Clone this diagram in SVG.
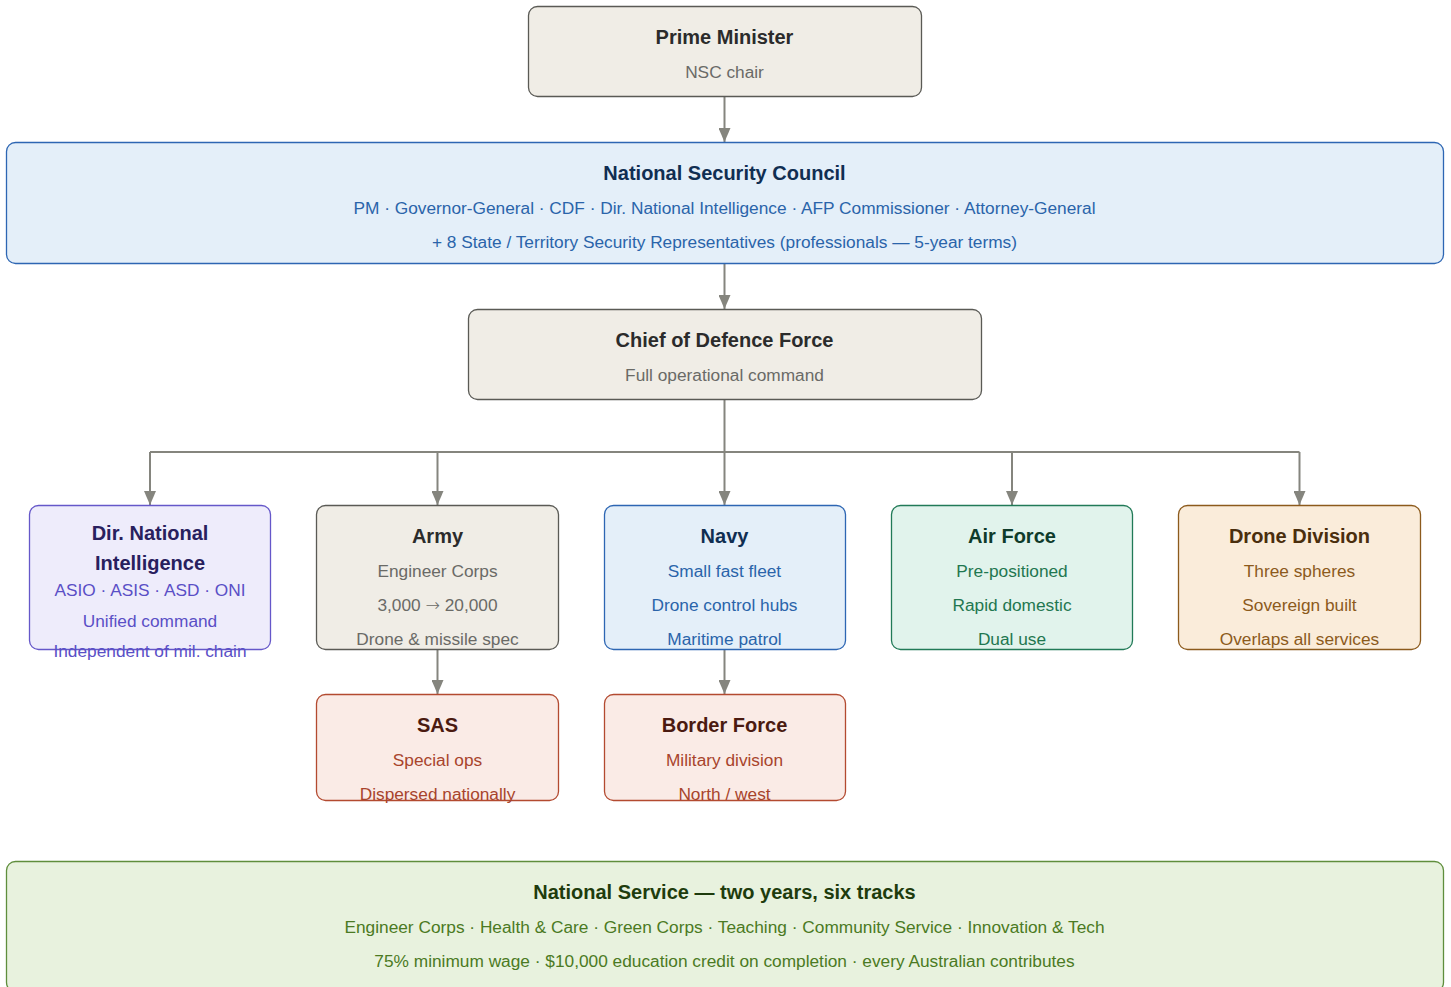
<svg xmlns="http://www.w3.org/2000/svg" width="1451" height="987" viewBox="0 0 1451 987">
<defs>
<marker id="arr" markerWidth="14" markerHeight="12" refX="14" refY="6" orient="auto" markerUnits="userSpaceOnUse">
<path d="M0,0 L14,6 L0,12 Z" fill="#85857e"/>
</marker>
<style>
text{font-family:"Liberation Sans",Arial,sans-serif;text-anchor:middle}
.t{font-size:20px;font-weight:bold}
.s{font-size:17.3px}
.ar{font-family:"DejaVu Sans",sans-serif;font-weight:200}
.box{stroke-width:1.3}
.n rect{fill:#f0ede6;stroke:#5a5a55}.n .t{fill:#2b2b2b}.n .s{fill:#6a6a66}
.b rect{fill:#e4eff9;stroke:#2d66b3}.b .t{fill:#102e52}.b .s{fill:#2a64aa}
.p rect{fill:#eeecfb;stroke:#6557c9}.p .t{fill:#28205e}.p .s{fill:#5a4fc6}
.g rect{fill:#e1f3ec;stroke:#217a57}.g .t{fill:#0f3b2b}.g .s{fill:#1f7750}
.o rect{fill:#faecda;stroke:#8c5a1c}.o .t{fill:#4a2e0d}.o .s{fill:#8c5a1c}
.r rect{fill:#faebe6;stroke:#b34a30}.r .t{fill:#4a1a10}.r .s{fill:#a8442c}
.l rect{fill:#e8f2de;stroke:#5f8e3c}.l .t{fill:#1e3c0d}.l .s{fill:#4b7a23}
.c{fill:none;stroke:#85857e;stroke-width:2}
</style>
</defs>
<g id="connectors">
<path class="c" d="M724.5,97 V142" marker-end="url(#arr)"/>
<path class="c" d="M724.5,263 V309" marker-end="url(#arr)"/>
<path class="c" d="M724.5,399 V452"/>
<path class="c" d="M150,452 H1299.5"/>
<path class="c" d="M150,452 V505" marker-end="url(#arr)"/>
<path class="c" d="M437.5,452 V505" marker-end="url(#arr)"/>
<path class="c" d="M724.5,452 V505" marker-end="url(#arr)"/>
<path class="c" d="M1012,452 V505" marker-end="url(#arr)"/>
<path class="c" d="M1299.5,452 V505" marker-end="url(#arr)"/>
<path class="c" d="M437.5,649 V694" marker-end="url(#arr)"/>
<path class="c" d="M724.5,649 V694" marker-end="url(#arr)"/>
</g>
<g id="pm" class="n"><rect class="box" x="528.5" y="6.5" width="393" height="90" rx="9"/><text class="t" x="724.5" y="44">Prime Minister</text><text class="s" x="724.5" y="78">NSC chair</text></g>
<g id="nsc" class="b"><rect class="box" x="6.5" y="142.5" width="1437" height="121" rx="9"/><text class="t" x="724.5" y="180">National Security Council</text><text class="s" x="724.5" y="214">PM · Governor-General · CDF · Dir. National Intelligence · AFP Commissioner · Attorney-General</text><text class="s" x="724.5" y="248">+ 8 State / Territory Security Representatives (professionals — 5-year terms)</text></g>
<g id="cdf" class="n"><rect class="box" x="468.5" y="309.5" width="513" height="90" rx="9"/><text class="t" x="724.5" y="347">Chief of Defence Force</text><text class="s" x="724.5" y="381">Full operational command</text></g>
<g id="dni" class="p"><rect class="box" x="29.5" y="505.5" width="241" height="144" rx="9"/><text class="t" x="150" y="540">Dir. National</text><text class="t" x="150" y="570">Intelligence</text><text class="s" x="150" y="596">ASIO · ASIS · ASD · ONI</text><text class="s" x="150" y="627">Unified command</text><text class="s" x="150" y="657">Independent of mil. chain</text></g>
<g id="army" class="n"><rect class="box" x="316.5" y="505.5" width="242" height="144" rx="9"/><text class="t" x="437.5" y="543">Army</text><text class="s" x="437.5" y="577">Engineer Corps</text><text class="s" x="437.5" y="611">3,000 <tspan class="ar">→</tspan> 20,000</text><text class="s" x="437.5" y="645">Drone &amp; missile spec</text></g>
<g id="navy" class="b"><rect class="box" x="604.5" y="505.5" width="241" height="144" rx="9"/><text class="t" x="724.5" y="543">Navy</text><text class="s" x="724.5" y="577">Small fast fleet</text><text class="s" x="724.5" y="611">Drone control hubs</text><text class="s" x="724.5" y="645">Maritime patrol</text></g>
<g id="airforce" class="g"><rect class="box" x="891.5" y="505.5" width="241" height="144" rx="9"/><text class="t" x="1012" y="543">Air Force</text><text class="s" x="1012" y="577">Pre-positioned</text><text class="s" x="1012" y="611">Rapid domestic</text><text class="s" x="1012" y="645">Dual use</text></g>
<g id="drone" class="o"><rect class="box" x="1178.5" y="505.5" width="242" height="144" rx="9"/><text class="t" x="1299.5" y="543">Drone Division</text><text class="s" x="1299.5" y="577">Three spheres</text><text class="s" x="1299.5" y="611">Sovereign built</text><text class="s" x="1299.5" y="645">Overlaps all services</text></g>
<g id="sas" class="r"><rect class="box" x="316.5" y="694.5" width="242" height="106" rx="9"/><text class="t" x="437.5" y="732">SAS</text><text class="s" x="437.5" y="766">Special ops</text><text class="s" x="437.5" y="800">Dispersed nationally</text></g>
<g id="border" class="r"><rect class="box" x="604.5" y="694.5" width="241" height="106" rx="9"/><text class="t" x="724.5" y="732">Border Force</text><text class="s" x="724.5" y="766">Military division</text><text class="s" x="724.5" y="800">North / west</text></g>
<g id="national-service" class="l"><rect class="box" x="6.5" y="861.5" width="1437" height="130" rx="9"/><text class="t" x="724.5" y="899">National Service — two years, six tracks</text><text class="s" x="724.5" y="933">Engineer Corps · Health &amp; Care · Green Corps · Teaching · Community Service · Innovation &amp; Tech</text><text class="s" x="724.5" y="967">75% minimum wage · $10,000 education credit on completion · every Australian contributes</text></g>
</svg>
